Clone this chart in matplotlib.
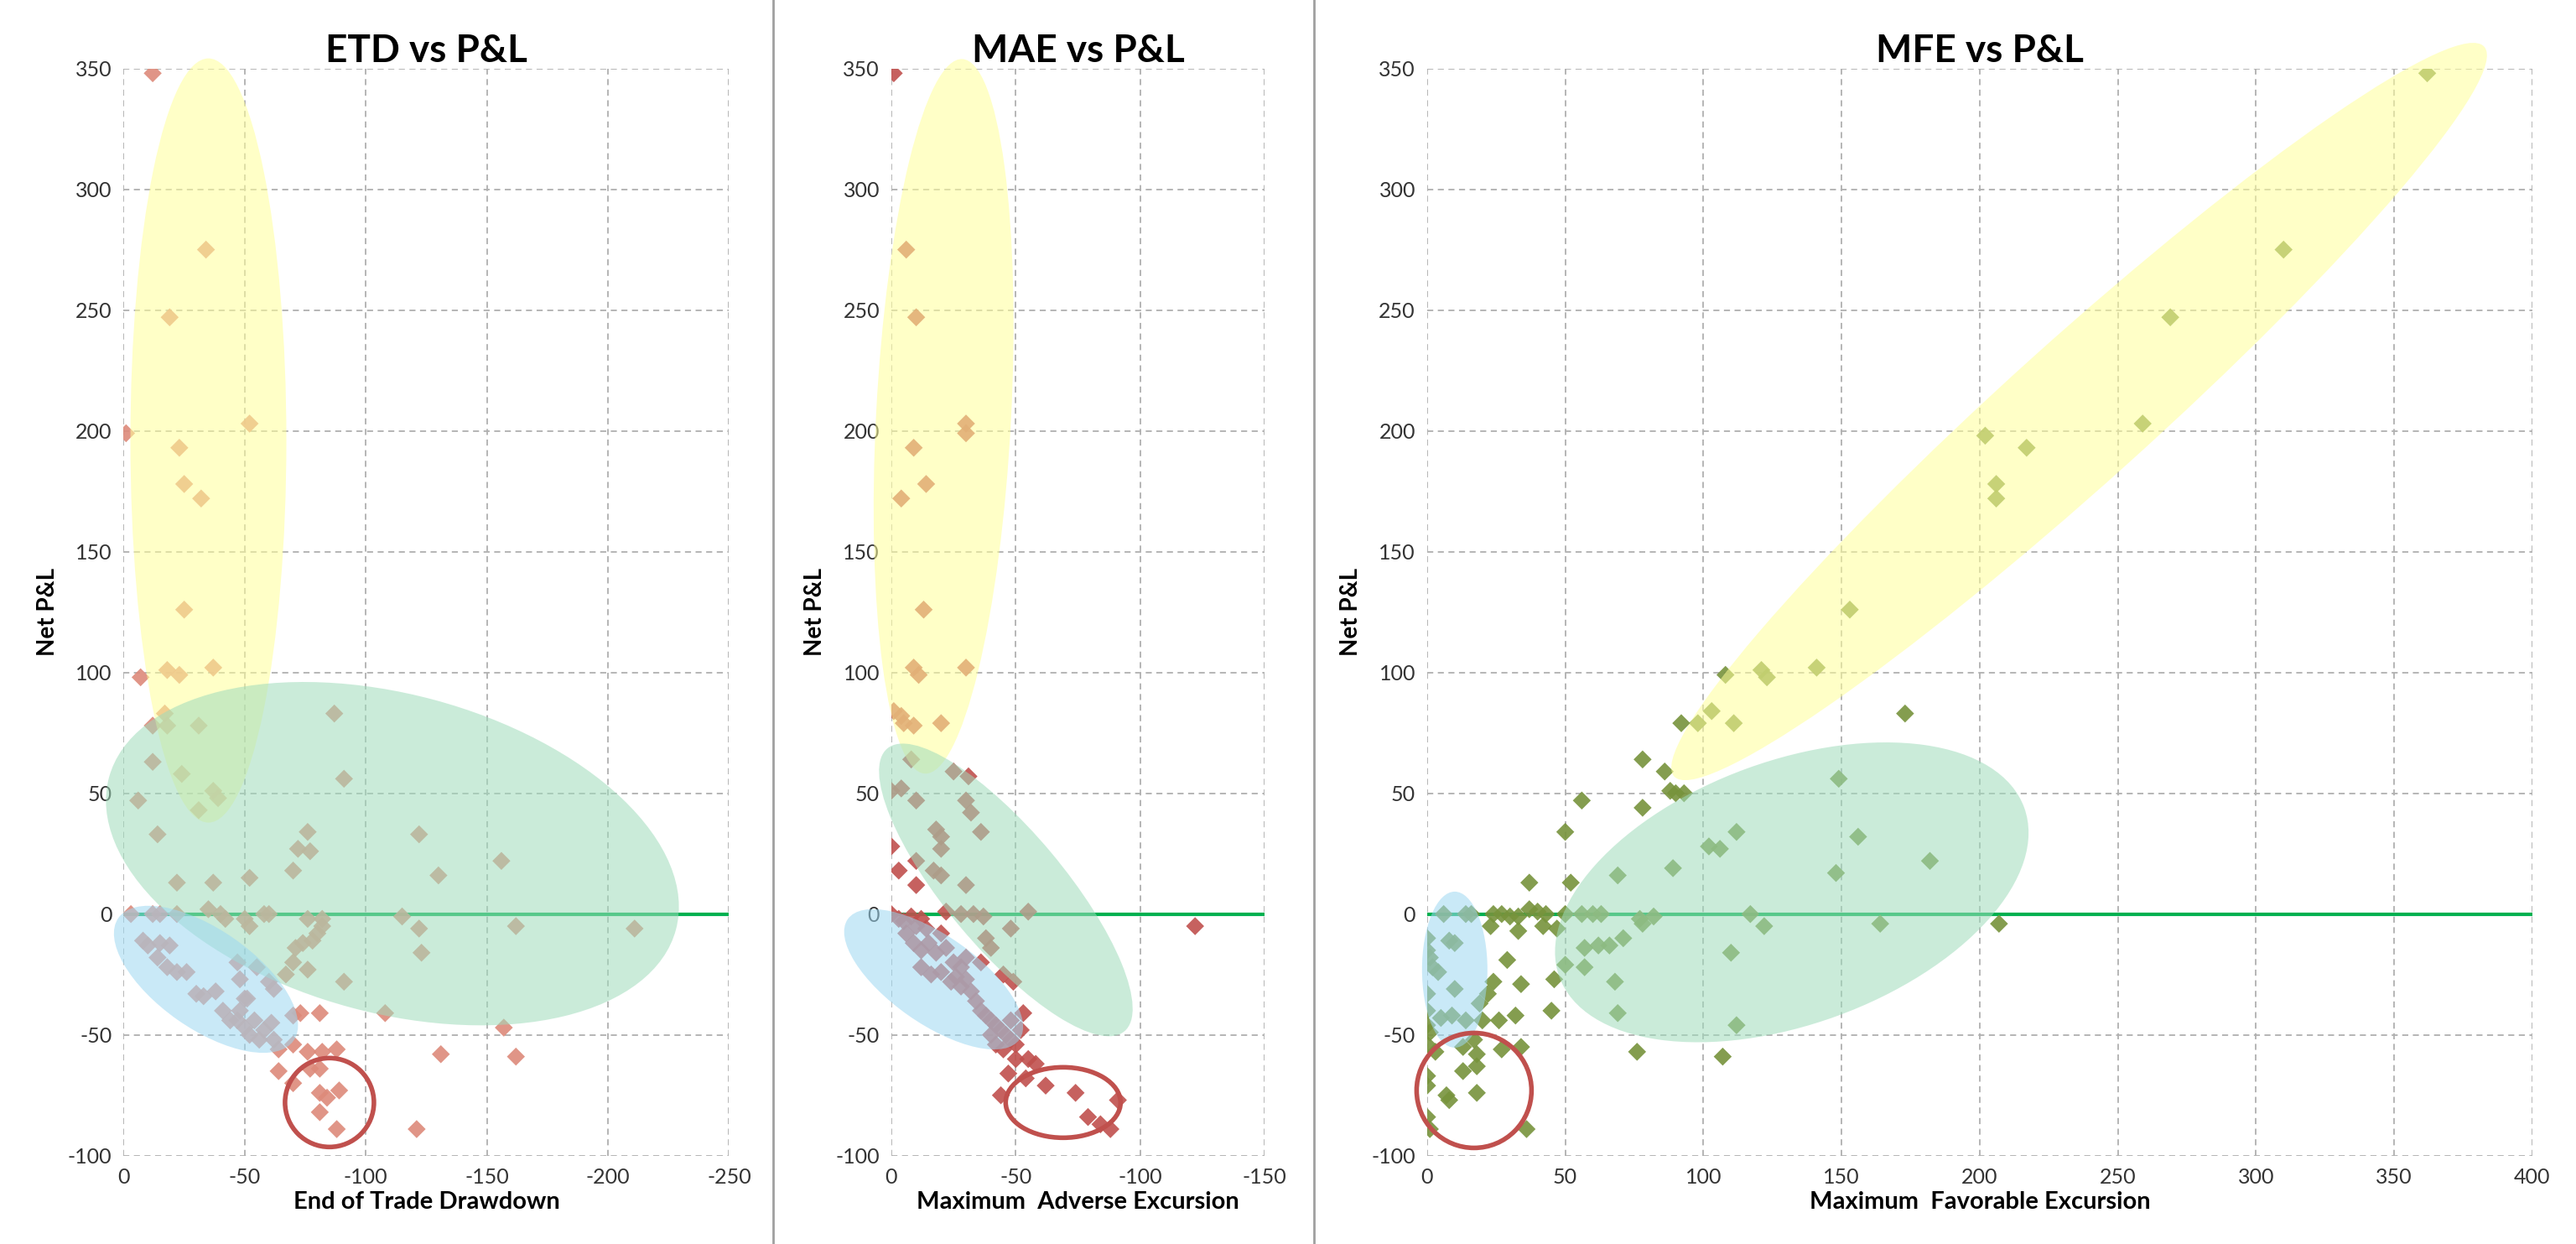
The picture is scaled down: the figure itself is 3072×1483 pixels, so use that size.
import matplotlib
matplotlib.use("Agg")
import matplotlib.pyplot as plt
from matplotlib.patches import Ellipse
from matplotlib.transforms import IdentityTransform
from matplotlib.lines import Line2D

plt.rcParams["font.family"] = ["Lato", "DejaVu Sans"]
plt.rcParams["axes.unicode_minus"] = False

# ETD vs P&L
etd_x = [-12, -34, -19, -52, -1, -23, -25, -32, -25, -37, -18, -23, -7, -17, -12, -18, -31, -12, -87, -91,
         -24, -6, -37, -39, -31, -14, -76, -72, -77, -70, -52, -122, -156, -130, -22, -37, -3, -12, -15, -22,
         -35, -40, -42, -50, -52, -58, -60, -76, -82, -115, -122, -162, -211, -123, -8, -10, -15, -19, -14, -18,
         -22, -26, -30, -33, -38, -41, -44, -47, -48, -50, -50, -52, -54, -56, -58, -61, -62, -64, -47, -48,
         -51, -60, -67, -70, -71, -74, -78, -80, -82, -76, -91, -108, -70, -73, -81, -70, -76, -82, -88, -64,
         -70, -77, -81, -81, -84, -89, -81, -88, -121, -131, -157, -162, -62, -55]
etd_y = [348, 275, 247, 203, 199, 193, 178, 172, 126, 102, 101, 99, 98, 83, 78, 78, 78, 63, 83, 56,
         58, 47, 51, 48, 43, 33, 34, 27, 26, 18, 15, 33, 22, 16, 13, 13, 0, 0, 0, 0,
         2, 0, -2, -2, -5, 0, 0, -2, -2, -1, -6, -5, -6, -16, -11, -13, -12, -13, -18, -22,
         -24, -24, -33, -34, -32, -40, -44, -44, -40, -47, -35, -50, -44, -52, -48, -45, -52, -56, -20, -27,
         -35, -28, -25, -20, -14, -12, -11, -8, -5, -23, -28, -41, -42, -41, -41, -54, -57, -57, -56, -65,
         -70, -64, -64, -74, -76, -73, -82, -89, -89, -58, -47, -59, -31, -22]

# MAE vs P&L
mae_x = [-1, -6, -10, -30, -30, -9, -14, -4, -13, -9, -11, -30, -1, -4, -5, -9, -20, -8, -25, -31,
         0, -4, -10, -30, -32, -36, -18, -20, -20, 0, -3, -10, -10, -17, -20, -30, -22, -28, -33, -37,
         -48, -55, -122, 0, -3, -5, -8, -10, -12, -14, -6, -9, -12, -15, -18, -20, -22, -25, -28, -30,
         -12, -16, -20, -24, -28, -32, -34, -36, -38, -40, -42, -44, -46, -48, -40, -42, -45, -50, -52, -53,
         -48, -38, -40, -45, -49, -50, -55, -58, -47, -54, -62, -44, -74, -79, -84, -88, -91, -36, -30, -26]
mae_y = [348, 275, 247, 203, 199, 193, 178, 172, 126, 102, 99, 102, 84, 82, 79, 78, 79, 64, 59, 57,
         51, 52, 47, 47, 42, 34, 35, 32, 27, 28, 18, 12, 22, 18, 16, 12, 1, 0, 0, -1,
         -6, 1, -5, 0, -2, -3, -1, -5, -2, -6, -8, -12, -15, -12, -16, -8, -14, -20, -22, -18,
         -22, -25, -24, -28, -30, -32, -36, -40, -42, -44, -46, -48, -50, -52, -50, -54, -56, -54, -48, -41,
         -44, -10, -14, -25, -28, -60, -60, -62, -66, -68, -71, -75, -74, -84, -87, -89, -77, -20, -27, -26]

# MFE vs P&L
mfe_x = [362, 310, 269, 259, 202, 217, 206, 206, 153, 141, 121, 123, 108, 103, 98, 92, 111, 173, 78, 86,
         88, 90, 93, 56, 78, 149, 50, 112, 156, 102, 106, 182, 148, 89, 69, 37, 52, 6, 14, 16,
         24, 27, 30, 33, 37, 40, 43, 50, 56, 60, 63, 77, 78, 82, 117, 122, 164, 207, 33, 42,
         47, 23, 57, 62, 66, 71, 110, 29, 50, 57, 34, 46, 68, 24, 69, 45, 32, 112, 26, 20,
         5, 9, 14, 10, 19, 22, 8, 10, 0, 0, 1, 2, 4, 0, 0, 0, 1, 0, 3, 76,
         107, 13, 18, 27, 34, 0, 0, 13, 18, 7, 8, 18, 0, 1, 36, 17]
mfe_y = [348, 275, 247, 203, 198, 193, 178, 172, 126, 102, 101, 98, 99, 84, 79, 79, 79, 83, 64, 59,
         51, 50, 50, 47, 44, 56, 34, 34, 32, 28, 27, 22, 17, 19, 16, 13, 13, 0, 0, 0,
         0, 0, -1, -1, 2, 1, 0, 0, 0, 0, 0, -2, -4, -1, 0, -5, -4, -4, -7, -5,
         -6, -5, -14, -13, -13, -10, -16, -19, -21, -22, -29, -27, -28, -28, -41, -40, -42, -46, -44, -44,
         -43, -42, -44, -31, -37, -33, -11, -12, -10, -15, -18, -22, -24, -33, -40, -46, -49, -54, -57, -57,
         -59, -55, -58, -56, -55, -67, -71, -65, -63, -75, -77, -74, -84, -89, -89, -52]

YELLOW = "#ffff99"
GREEN = "#9fdcbb"
BLUE = "#9dd8f2"
RED = "#c0504d"

fig = plt.figure(figsize=(30.72, 14.83), dpi=100)
bottom, height = 0.071, 0.874
ax1 = fig.add_axes([0.048, bottom, 0.235, height])
ax2 = fig.add_axes([0.346, bottom, 0.145, height])
ax3 = fig.add_axes([0.554, bottom, 0.429, height])

panels = [
    (ax1, etd_x, etd_y, "#dd8a7a", "ETD vs P&L", "End of Trade Drawdown", (0, -250), range(0, -251, -50)),
    (ax2, mae_x, mae_y, "#c0504d", "MAE vs P&L", "Maximum  Adverse Excursion", (0, -150), range(0, -151, -50)),
    (ax3, mfe_x, mfe_y, "#77933c", "MFE vs P&L", "Maximum  Favorable Excursion", (0, 400), range(0, 401, 50)),
]

for ax, xs, ys, col, title, xlabel, xlim, xticks in panels:
    ax.scatter(xs, ys, marker="D", s=120, color=col, edgecolors="none", zorder=3, alpha=0.9)
    ax.plot(list(xlim), [0, 0], color="#00b050", lw=3, zorder=2)
    ax.set_xlim(*xlim)
    ax.set_ylim(-100, 350)
    ax.set_xticks(list(xticks))
    ax.set_yticks(range(-100, 351, 50))
    ax.grid(True, linestyle=(0, (4, 3)), color="#b0b0b0", lw=1.3)
    ax.set_axisbelow(True)
    for s in ax.spines.values():
        s.set_visible(False)
    ax.tick_params(length=0, labelsize=18, colors="#333333", pad=10)
    ax.set_title(title, fontsize=33, fontweight="bold", pad=4)
    ax.set_xlabel(xlabel, fontsize=21, fontweight="bold", labelpad=4)
    ax.set_ylabel("Net P&L", fontsize=20, fontweight="bold", labelpad=8)

# highlight shapes: data-space centre, pixel size and angle
shapes = [
    (ax1, -35, 196, 186, 911, 0, YELLOW, None),
    (ax1, -111, 25, 700, 380, -15, GREEN, None),
    (ax1, -34, -27, 255, 118, -35, BLUE, None),
    (ax1, -85, -78, 106, 106, 0, None, RED),
    (ax2, -21, 206, 161, 853, -3, YELLOW, None),
    (ax2, -46, 10, 440, 140, -50, GREEN, None),
    (ax2, -17, -27, 250, 105, -35, BLUE, None),
    (ax2, -69, -78, 137, 84, 0, None, RED),
    (ax3, 236, 208, 1300, 170, 42, YELLOW, None),
    (ax3, 132, 9, 590, 314, 20, GREEN, None),
    (ax3, 10, -23, 78, 186, 0, BLUE, None),
    (ax3, 17, -73, 137, 137, 0, None, RED),
]
for ax, cx, cy, w, h, ang, fc, ec in shapes:
    px, py = ax.transData.transform((cx, cy))
    if fc:
        e = Ellipse((px, py), w, h, angle=ang, facecolor=fc, edgecolor="none",
                    alpha=0.55, transform=IdentityTransform(), zorder=4)
    else:
        e = Ellipse((px, py), w, h, angle=ang, facecolor="none", edgecolor=ec,
                    lw=4, transform=IdentityTransform(), zorder=5)
    e.set_clip_on(False)
    fig.add_artist(e)

for xf in (0.300, 0.510):
    fig.add_artist(Line2D([xf, xf], [0, 1], color="#a0a0a0", lw=2))

fig.savefig("out.png", dpi=100)
